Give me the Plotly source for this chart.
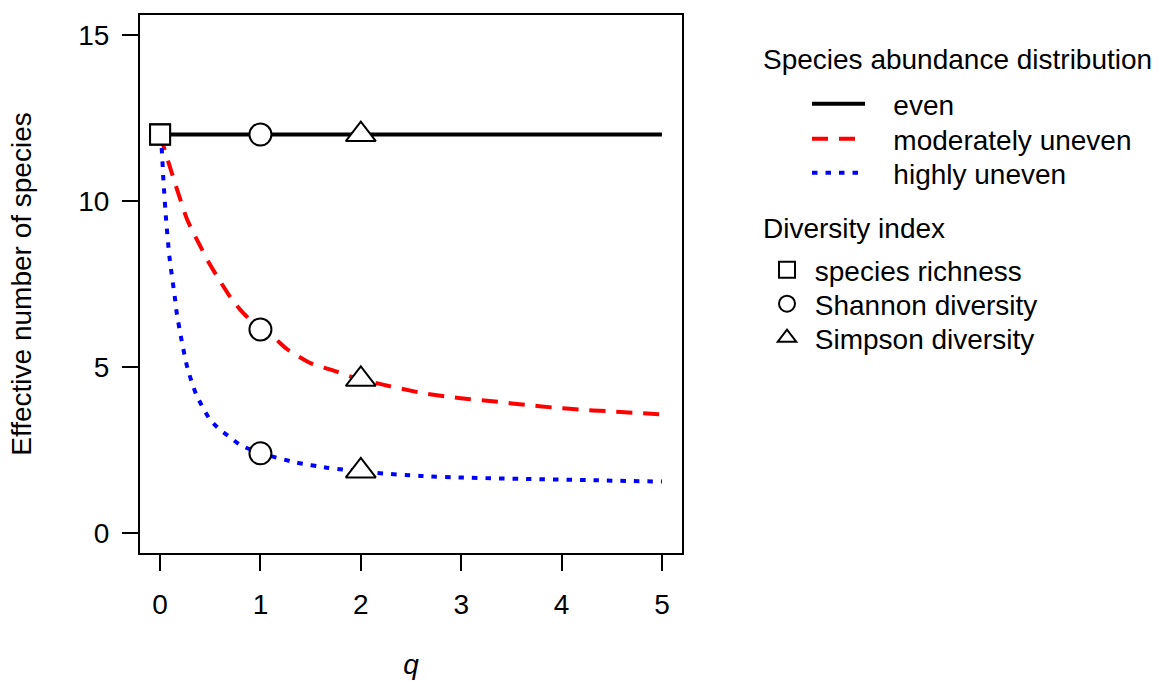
import plotly.graph_objects as go

# ---- data ----
q_even = [0, 5]
v_even = [12.0, 12.0]

q_mod = [0, 0.08, 0.27, 0.38, 0.48, 0.57, 0.71, 0.80, 0.90, 1.00, 1.10, 1.26, 1.49,
         1.76, 1.86, 2.00, 2.22, 2.59, 2.86, 3.09, 3.37, 3.64, 3.92, 4.18, 4.45,
         4.73, 5.00]
v_mod = [12.0, 11.2, 9.44, 8.76, 8.18, 7.72, 7.06, 6.72, 6.41, 6.13, 5.98, 5.55,
         5.13, 4.86, 4.75, 4.63, 4.47, 4.23, 4.11, 4.03, 3.95, 3.86, 3.78, 3.72,
         3.67, 3.62, 3.57]

q_high = [0, 0.017, 0.033, 0.06, 0.093, 0.15, 0.166, 0.216, 0.272, 0.359, 0.49,
          0.59, 0.70, 0.80, 1.00, 1.10, 1.36, 1.66, 1.86, 2.00, 2.12, 2.59, 3.02,
          3.65, 4.32, 5.00]
v_high = [12.0, 11.54, 10.64, 9.44, 8.33, 7.03, 6.63, 5.78, 4.98, 4.18, 3.45,
          3.13, 2.88, 2.65, 2.40, 2.32, 2.12, 1.97, 1.90, 1.87, 1.82, 1.72, 1.67,
          1.63, 1.59, 1.55]

series_names = ["even", "moderately uneven", "highly uneven"]
series_colors = ["black", "red", "blue"]
series_dash = ["solid", "16px,11px", "5.5px,8px"]

index_names = ["species richness", "Shannon diversity", "Simpson diversity"]
index_q = [0, 1, 2]
# index value for (even, moderately uneven, highly uneven)
richness_vals = [12.0, 12.0, 12.0]
shannon_vals = [12.0, 6.13, 2.40]
simpson_vals = [12.0, 4.63, 1.87]
index_symbols = ["square", "circle", "triangle-up"]
index_sizes = [20, 22, 26]

x_ticks = [0, 1, 2, 3, 4, 5]
y_ticks = [0, 5, 10, 15]

legend_title_1 = "Species abundance distribution"
legend_title_2 = "Diversity index"

FONT = "Liberation Sans, Arial, sans-serif"
FS = 28
NB = "\u00a0"

L, R, T, B = 140, 476, 15, 128
W, H = 1158, 681
pw = W - L - R
ph = H - T - B


def px_x(px):
    return (px - L) / pw


def px_y(py):
    return (H - B - py) / ph


fig = go.Figure()

line_rows = [104, 139, 173]
marker_rows = [270, 304, 338]

line_data = [(q_even, v_even), (q_mod, v_mod), (q_high, v_high)]
legend_layouts = {}
k = 1
for (qs, vs), name, col, dash, row in zip(line_data, series_names, series_colors,
                                          series_dash, line_rows):
    lg = "legend" if k == 1 else f"legend{k}"
    fig.add_trace(go.Scatter(
        x=qs, y=vs, mode="lines", name=NB * 3 + name,
        line=dict(color=col, width=4, dash=dash, shape="spline", smoothing=0.6),
        legend=lg,
    ))
    legend_layouts[lg] = dict(x=px_x(807), y=px_y(row), xanchor="left", yanchor="middle",
                              bgcolor="rgba(0,0,0,0)", font=dict(family=FONT, size=FS),
                              itemwidth=53)
    k += 1

idx_vals = [richness_vals, shannon_vals, simpson_vals]
for name, qv, vals, sym, sz, row in zip(index_names, index_q, idx_vals, index_symbols,
                                        index_sizes, marker_rows):
    lg = f"legend{k}"
    fig.add_trace(go.Scatter(
        x=[qv] * len(vals), y=vals, mode="markers", name=NB + name,
        marker=dict(symbol=sym, size=sz, color="white",
                    line=dict(color="black", width=2)),
        legend=lg, cliponaxis=False,
    ))
    legend_layouts[lg] = dict(x=px_x(767), y=px_y(row), xanchor="left", yanchor="middle",
                              bgcolor="rgba(0,0,0,0)", font=dict(family=FONT, size=FS),
                              itemsizing="trace")
    k += 1

axis_common = dict(
    showgrid=False, zeroline=False, showline=True, mirror=True, automargin=False,
    linecolor="black", linewidth=2, ticks="outside", tickcolor="black",
    tickwidth=2, ticklen=16, tickfont=dict(family=FONT, size=FS, color="black"),
)

fig.update_layout(
    width=W, height=H,
    margin=dict(l=L, r=R, t=T, b=B, pad=0, autoexpand=False),
    plot_bgcolor="white", paper_bgcolor="white",
    font=dict(family=FONT, size=FS, color="black"),
    xaxis=dict(range=[-0.2, 5.2], tickvals=x_ticks, ticklabelstandoff=9,
               title=dict(text="<i>q</i>", font=dict(family=FONT, size=FS), standoff=36),
               **axis_common),
    yaxis=dict(range=[-0.6, 15.6], tickvals=y_ticks, ticklabelstandoff=7,
               title=dict(text="Effective number of species", font=dict(family=FONT, size=FS),
                          standoff=38),
               **axis_common),
    annotations=[
        dict(text=legend_title_1, xref="paper", yref="paper",
             x=px_x(761), y=px_y(60), xanchor="left", yanchor="middle",
             showarrow=False, font=dict(family=FONT, size=FS)),
        dict(text=legend_title_2, xref="paper", yref="paper",
             x=px_x(761), y=px_y(228), xanchor="left", yanchor="middle",
             showarrow=False, font=dict(family=FONT, size=FS)),
    ],
    showlegend=True,
    **legend_layouts,
)

fig.write_html("out.html", config={"displayModeBar": False},
               post_script="document.body.style.margin='0';")
